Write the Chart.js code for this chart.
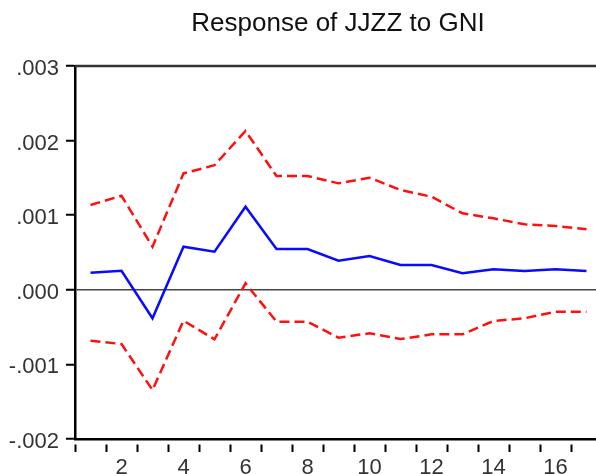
<!DOCTYPE html>
<html>
<head>
<meta charset="utf-8">
<script src="https://cdn.jsdelivr.net/npm/chart.js@4.4.0/dist/chart.umd.min.js"></script>
<style>
  html, body { margin: 0; padding: 0; background: #fff; overflow: hidden; width: 596px; height: 474px; }
  canvas { display: block; }
</style>
</head>
<body>
<canvas id="canvas" width="676" height="490"></canvas>
<script>
// periods 1..17 (the rest of the axis is cut off in the picture)
const periods = ['1','2','3','4','5','6','7','8','9','10','11','12','13','14','15','16','17'];

// impulse response of JJZZ to GNI
const response = [0.000229, 0.000256, -0.000382, 0.000578, 0.000511, 0.001114, 0.000547, 0.000547,
                  0.000390, 0.000453, 0.000332, 0.000332, 0.000221, 0.000275, 0.000252, 0.000275, 0.000252];
// +/- 2 S.E. bands
const upperBand = [0.001137, 0.001260, 0.000578, 0.001560, 0.001670, 0.002130, 0.001525, 0.001525,
                   0.001427, 0.001503, 0.001338, 0.001248, 0.001025, 0.000958, 0.000878, 0.000855, 0.000811];
const lowerBand = [-0.000682, -0.000727, -0.001343, -0.000414, -0.000664, 0.000087, -0.000427, -0.000427,
                   -0.000642, -0.000583, -0.000660, -0.000597, -0.000597, -0.000418, -0.000382, -0.000294, -0.000294];

const yTicks = [-0.002, -0.001, 0, 0.001, 0.002, 0.003];

const fontFamily = '"Liberation Sans", Arial, sans-serif';

// box round the plot area (top and right side; left/bottom are the axes)
const frame = {
    id: 'frame',
    afterDraw(chart) {
        const a = chart.chartArea;
        const c = chart.ctx;
        c.save();
        c.strokeStyle = '#333';
        c.lineWidth = 2.5;
        c.beginPath();
        c.moveTo(a.left, a.top);
        c.lineTo(a.right, a.top);
        c.lineTo(a.right, a.bottom);
        c.stroke();
        c.restore();
    }
};

const ctx = document.getElementById('canvas').getContext('2d');
window.myChart = new Chart(ctx, {
    type: 'line',
    data: {
        labels: periods,
        datasets: [
            {
                label: 'Response',
                data: response,
                borderColor: '#0a0aff',
                borderWidth: 2.5,
                pointRadius: 0,
                tension: 0
            },
            {
                label: 'Upper',
                data: upperBand,
                borderColor: '#ff1010',
                borderWidth: 2.5,
                borderDash: [10, 5],
                pointRadius: 0,
                tension: 0
            },
            {
                label: 'Lower',
                data: lowerBand,
                borderColor: '#ff1010',
                borderWidth: 2.5,
                borderDash: [10, 5],
                pointRadius: 0,
                tension: 0
            }
        ]
    },
    options: {
        responsive: false,
        animation: false,
        layout: { padding: 0 },
        plugins: {
            legend: { display: false },
            tooltip: { enabled: false },
            title: {
                display: true,
                text: 'Response of JJZZ to GNI',
                color: '#111',
                font: { family: fontFamily, size: 26, weight: 'normal', lineHeight: 1.2 },
                padding: { top: 8, bottom: 26.8 }
            }
        },
        scales: {
            x: {
                type: 'category',
                offset: true,
                afterFit: (scale) => { scale.height = 51; },
                border: { display: true, color: '#000', width: 2.5 },
                grid: {
                    offset: true,
                    drawOnChartArea: false,
                    drawTicks: true,
                    tickLength: 13,
                    tickColor: '#000',
                    tickWidth: 2,
                    tickBorderDash: [0, 4, 9, 60]
                },
                ticks: {
                    autoSkip: false,
                    maxRotation: 0,
                    padding: 3,
                    color: '#333',
                    font: { family: fontFamily, size: 22 },
                    callback: function(val, i) {
                        return (i + 1) % 2 === 0 ? periods[i] : '';
                    }
                }
            },
            y: {
                min: yTicks[0],
                max: yTicks[yTicks.length - 1],
                afterFit: (scale) => { scale.width = 75; },
                afterBuildTicks: (scale) => { scale.ticks = yTicks.map(v => ({ value: v })); },
                border: { display: true, color: '#000', width: 2.5 },
                grid: {
                    drawOnChartArea: true,
                    drawTicks: true,
                    tickLength: 9,
                    tickColor: '#000',
                    tickWidth: 2,
                    lineWidth: 1.5,
                    color: (c) => (c.tick && c.tick.value === 0) ? '#444' : 'rgba(0,0,0,0)'
                },
                ticks: {
                    padding: 7,
                    labelOffset: 3,
                    color: '#333',
                    font: { family: fontFamily, size: 22 },
                    callback: function(v) {
                        return Number(v).toFixed(3).replace('0.', '.');
                    }
                }
            },
            // empty right-hand axis, only holds the space past the visible edge
            yRight: {
                position: 'right',
                min: yTicks[0],
                max: yTicks[yTicks.length - 1],
                afterFit: (scale) => { scale.width = 74; },
                border: { display: false },
                grid: { display: false },
                ticks: { display: false }
            }
        }
    },
    plugins: [frame]
});
</script>
</body>
</html>
